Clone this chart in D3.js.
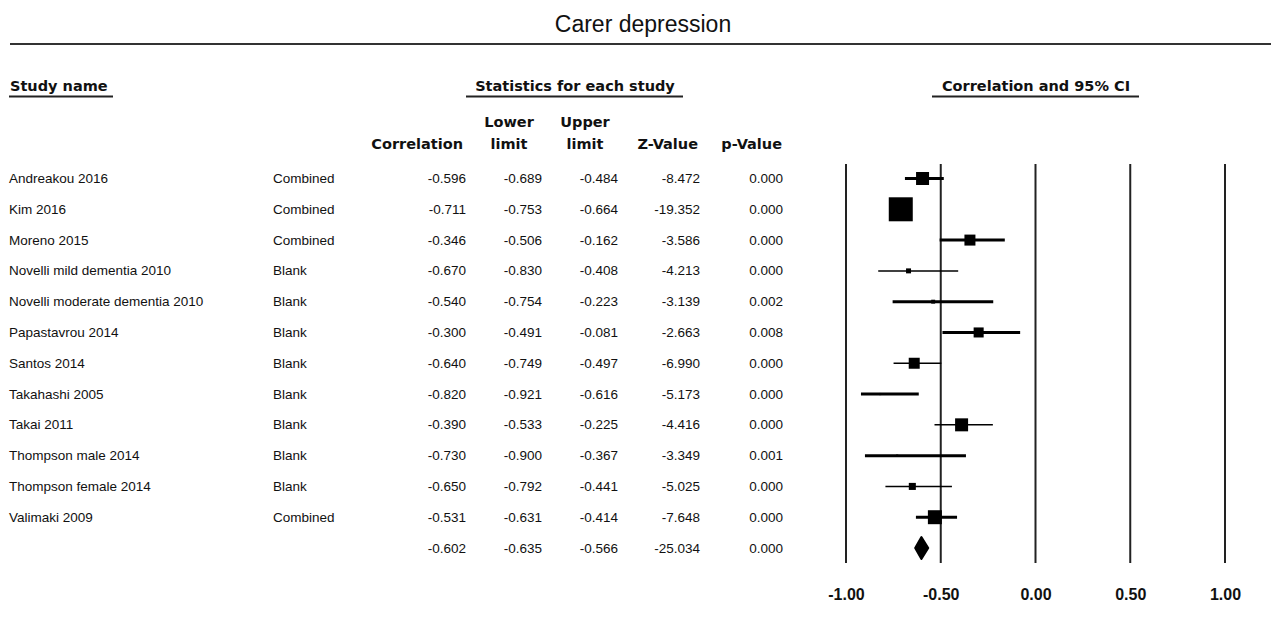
<!DOCTYPE html>
<html>
<head>
<meta charset="utf-8">
<script src="https://cdn.jsdelivr.net/npm/d3@7"></script>
<style>
  html, body { margin: 0; padding: 0; background: #fff; }
  svg { display: block; }
</style>
</head>
<body>
<svg id="chart" width="1271" height="620"></svg>
<script>
// ---------- DATA ----------
const studies = [
  "Andreakou 2016", "Kim 2016", "Moreno 2015", "Novelli mild dementia 2010",
  "Novelli moderate dementia 2010", "Papastavrou 2014", "Santos 2014",
  "Takahashi 2005", "Takai 2011", "Thompson male 2014", "Thompson female 2014",
  "Valimaki 2009"
];
const subgroups = ["Combined", "Combined", "Combined", "Blank", "Blank", "Blank",
  "Blank", "Blank", "Blank", "Blank", "Blank", "Combined"];
const correlation = [-0.596, -0.711, -0.346, -0.670, -0.540, -0.300, -0.640, -0.820, -0.390, -0.730, -0.650, -0.531];
const lowerLimit  = [-0.689, -0.753, -0.506, -0.830, -0.754, -0.491, -0.749, -0.921, -0.533, -0.900, -0.792, -0.631];
const upperLimit  = [-0.484, -0.664, -0.162, -0.408, -0.223, -0.081, -0.497, -0.616, -0.225, -0.367, -0.441, -0.414];
const zValue      = [-8.472, -19.352, -3.586, -4.213, -3.139, -2.663, -6.990, -5.173, -4.416, -3.349, -5.025, -7.648];
const pValue      = [0.000, 0.000, 0.000, 0.000, 0.002, 0.008, 0.000, 0.000, 0.000, 0.001, 0.000, 0.000];
// relative weights (%), estimated from square sizes
const relWeight   = [10.9, 37.2, 7.8, 1.6, 1.0, 6.5, 7.8, 0.3, 10.9, 0.3, 3.2, 12.6];
// pooled summary
const summary = { correlation: -0.602, lower: -0.635, upper: -0.566, z: -25.034, p: 0.000 };
const axisTicks = [-1.00, -0.50, 0.00, 0.50, 1.00];
const title = "Carer depression";

// ---------- RENDER CONFIG ----------
const thinCI = new Set(["Novelli mild dementia 2010", "Santos 2014", "Takai 2011", "Thompson female 2014"]);
const locale = d3.formatLocale({ decimal: ".", thousands: ",", grouping: [3], currency: ["", ""], minus: "-" });
const fmt3 = locale.format(".3f");
const fmt2 = locale.format(".2f");
const bodyFont = "'Liberation Sans', Arial, sans-serif";
const headFont = "'DejaVu Sans', Verdana, sans-serif";

const svg = d3.select("#chart");

const x = d3.scaleLinear().domain([-1, 1]).range([846, 1225]);
const rowKeys = studies.concat(["__summary__"]);
const y = d3.scalePoint().domain(rowKeys).range([178.5, 548]);
const size = d3.scaleSqrt().domain([0, d3.max(relWeight)]).range([0, 24]);

// Title
svg.append("text")
  .attr("x", 643).attr("y", 32)
  .attr("text-anchor", "middle")
  .style("font-family", bodyFont).style("font-size", "23px").attr("fill", "#111")
  .text(title);
svg.append("line").attr("x1", 10).attr("x2", 1271).attr("y1", 44).attr("y2", 44)
  .attr("stroke", "#333").attr("stroke-width", 2);

// Section headers
const sections = [
  { text: "Study name", x: 10, anchor: "start", ul: [9, 113] },
  { text: "Statistics for each study", x: 575, anchor: "middle", ul: [466, 683] },
  { text: "Correlation and 95% CI", x: 1036, anchor: "middle", ul: [932, 1139] }
];
sections.forEach(s => {
  svg.append("text").attr("x", s.x).attr("y", 91).attr("text-anchor", s.anchor)
    .style("font-family", headFont).style("font-weight", "bold").style("font-size", "14.5px")
    .attr("fill", "#111").text(s.text);
  svg.append("line").attr("x1", s.ul[0]).attr("x2", s.ul[1]).attr("y1", 96.5).attr("y2", 96.5)
    .attr("stroke", "#222").attr("stroke-width", 2);
});

// Column headers
const colHeads = [
  { lines: ["Correlation"], x: 463, anchor: "end" },
  { lines: ["Lower", "limit"], x: 509, anchor: "middle" },
  { lines: ["Upper", "limit"], x: 585, anchor: "middle" },
  { lines: ["Z-Value"], x: 698, anchor: "end" },
  { lines: ["p-Value"], x: 782, anchor: "end" }
];
colHeads.forEach(c => {
  const n = c.lines.length;
  c.lines.forEach((t, i) => {
    svg.append("text").attr("x", c.x).attr("y", 149 - (n - 1 - i) * 22)
      .attr("text-anchor", c.anchor)
      .style("font-family", headFont).style("font-weight", "bold").style("font-size", "14.5px")
      .attr("fill", "#111").text(t);
  });
});

// Table rows
const rows = studies.map((s, i) => ({
  key: s, name: s, sub: subgroups[i], r: correlation[i], lo: lowerLimit[i], hi: upperLimit[i],
  z: zValue[i], p: pValue[i], w: relWeight[i]
}));
const cols = [
  { x: 466, get: d => fmt3(d.r) },
  { x: 542, get: d => fmt3(d.lo) },
  { x: 618, get: d => fmt3(d.hi) },
  { x: 700, get: d => fmt3(d.z) },
  { x: 783, get: d => fmt3(d.p) }
];
const tableRows = rows.concat([{ key: "__summary__", name: "", sub: "", r: summary.correlation,
  lo: summary.lower, hi: summary.upper, z: summary.z, p: summary.p }]);

const rg = svg.append("g").style("font-family", bodyFont).style("font-size", "13.5px").attr("fill", "#111");
tableRows.forEach(d => {
  const by = y(d.key) + 4.5;
  if (d.name) rg.append("text").attr("x", 9).attr("y", by).text(d.name);
  if (d.sub) rg.append("text").attr("x", 273).attr("y", by).text(d.sub);
  cols.forEach(c => rg.append("text").attr("x", c.x).attr("y", by).attr("text-anchor", "end").text(c.get(d)));
});

// Vertical reference lines
const yTopLine = y(studies[0]) - 14.5, yBottomLine = y("__summary__") + 15;
svg.append("g").selectAll("line").data(axisTicks).join("line")
  .attr("x1", d => x(d)).attr("x2", d => x(d))
  .attr("y1", yTopLine).attr("y2", yBottomLine)
  .attr("stroke", "#222").attr("stroke-width", 2);

// CI lines and squares
const fg = svg.append("g");
rows.forEach(d => {
  const cy = y(d.key);
  fg.append("line").attr("x1", x(d.lo)).attr("x2", x(d.hi)).attr("y1", cy).attr("y2", cy)
    .attr("stroke", "#000").attr("stroke-width", thinCI.has(d.name) ? 1.5 : 3);
  const s = size(d.w);
  fg.append("rect").attr("x", x(d.r) - s / 2).attr("y", cy - s / 2)
    .attr("width", s).attr("height", s).attr("fill", "#000");
});

// Summary diamond
const sy = y("__summary__");
fg.append("path")
  .attr("d", `M${x(summary.lower)},${sy} L${x(summary.correlation)},${sy - 11} L${x(summary.upper)},${sy} L${x(summary.correlation)},${sy + 11} Z`)
  .attr("fill", "#000").attr("stroke", "#000").attr("stroke-width", 2).attr("stroke-linejoin", "round");

// Axis
const axis = d3.axisBottom(x).tickValues(axisTicks).tickSize(0).tickPadding(3).tickFormat(fmt2);
const ag = svg.append("g").attr("transform", "translate(0,586)").call(axis);
ag.select(".domain").remove();
ag.selectAll("text").style("font-family", bodyFont).style("font-weight", "bold")
  .style("font-size", "16px").attr("fill", "#111");
</script>
</body>
</html>
